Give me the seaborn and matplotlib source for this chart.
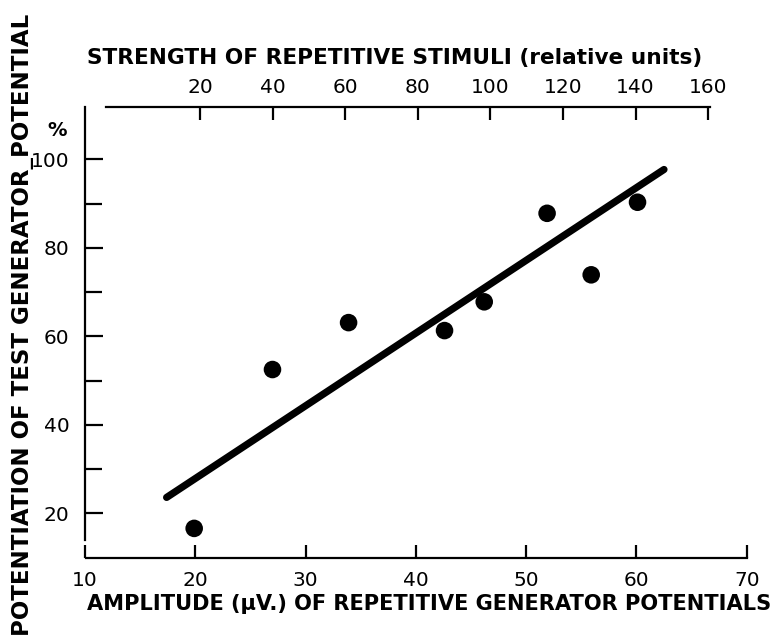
import numpy as np
import pandas as pd
import matplotlib
matplotlib.use("Agg")
import matplotlib.pyplot as plt
import seaborn as sns

# ---- data ----
amplitude = [19.9, 27.0, 33.9, 42.6, 46.2, 51.9, 55.9, 60.1]
potentiation = [16.6, 52.5, 63.1, 61.3, 67.8, 87.8, 73.9, 90.3]
fit_x = [17.4, 62.5]
fit_y = [23.6, 97.7]
bottom_ticks = [10, 20, 30, 40, 50, 60, 70]
left_major = [20, 40, 60, 80, 100]
left_minor = [30, 50, 70, 90]
top_ticks = [20, 40, 60, 80, 100, 120, 140, 160]

# top axis (relative units) relation to amplitude axis
def amp_to_strength(a):
    return 3.0386 * np.asarray(a) - 42.07

sns.set_style("ticks")
plt.rcParams["font.family"] = ["DejaVu Sans"]
plt.rcParams["text.color"] = "black"
plt.rcParams["axes.labelcolor"] = "black"
plt.rcParams["xtick.color"] = "black"
plt.rcParams["ytick.color"] = "black"

W, H = 776, 638
fig = plt.figure(figsize=(W / 100, H / 100), dpi=100)

def fx(px):
    return px / W

def fy(py):
    return 1 - py / H

ax = fig.add_axes([fx(85), fy(557.6), fx(746.7) - fx(85), fy(107.1) - fy(557.6)])

df = pd.DataFrame({"amp": amplitude, "pot": potentiation})
fit = pd.DataFrame({"x": fit_x, "y": fit_y})

sns.lineplot(data=fit, x="x", y="y", ax=ax, color="black", linewidth=5.2,
             solid_capstyle="round")
sns.scatterplot(data=df, x="amp", y="pot", ax=ax, color="black", s=160,
                edgecolor="none", zorder=5)

ax.set_xlim(10, 70)
ax.set_ylim(10, 111.8)
ax.set_xlabel("")
ax.set_ylabel("")

for side in ["top", "right"]:
    ax.spines[side].set_visible(False)
ax.spines["left"].set_bounds(13.9, 111.8)
ax.spines["bottom"].set_bounds(10.1, 70)
for side in ["left", "bottom"]:
    ax.spines[side].set_linewidth(1.6)
    ax.spines[side].set_color("black")

ax.set_xticks(bottom_ticks)
ax.set_xticklabels([str(t) for t in bottom_ticks])
ax.tick_params(axis="x", direction="in", length=9.5, width=1.6, pad=10,
               labelsize=14.5, colors="black")
ax.set_yticks(left_major)
ax.set_yticklabels([str(t) for t in left_major])
ax.set_yticks(left_minor, minor=True)
ax.tick_params(axis="y", which="major", direction="in", length=13, width=1.6,
               pad=11, labelsize=14.5, colors="black")
ax.tick_params(axis="y", which="minor", direction="in", length=12, width=1.6,
               colors="black")

# top axis
tax = ax.twiny()
tax.set_xlim(amp_to_strength(10), amp_to_strength(70))
for side in ["bottom", "right", "left"]:
    tax.spines[side].set_visible(False)
tax.spines["top"].set_bounds(-5.9, 160.5)
tax.spines["top"].set_linewidth(1.6)
tax.spines["top"].set_color("black")
tax.set_xticks(top_ticks)
tax.set_xticklabels([str(t) for t in top_ticks])
tax.tick_params(axis="x", direction="in", length=9.5, width=1.6, pad=7,
                labelsize=14.5, colors="black")

# labels
fig.text(fx(395), fy(58), "STRENGTH OF REPETITIVE STIMULI (relative units)",
         ha="center", va="center", fontsize=15.6, fontweight="bold")
fig.text(fx(429), fy(604), "AMPLITUDE (\u03bcV.) OF REPETITIVE GENERATOR POTENTIALS",
         ha="center", va="center", fontsize=15.1, fontweight="bold")
fig.text(fx(23), fy(325), "POTENTIATION OF TEST GENERATOR_POTENTIAL",
         ha="center", va="center", rotation=90, fontsize=16.5, fontweight="bold")
fig.text(fx(57), fy(130), "%", ha="center", va="center", fontsize=14,
         fontweight="bold")

fig.savefig("out.png", dpi=100)
